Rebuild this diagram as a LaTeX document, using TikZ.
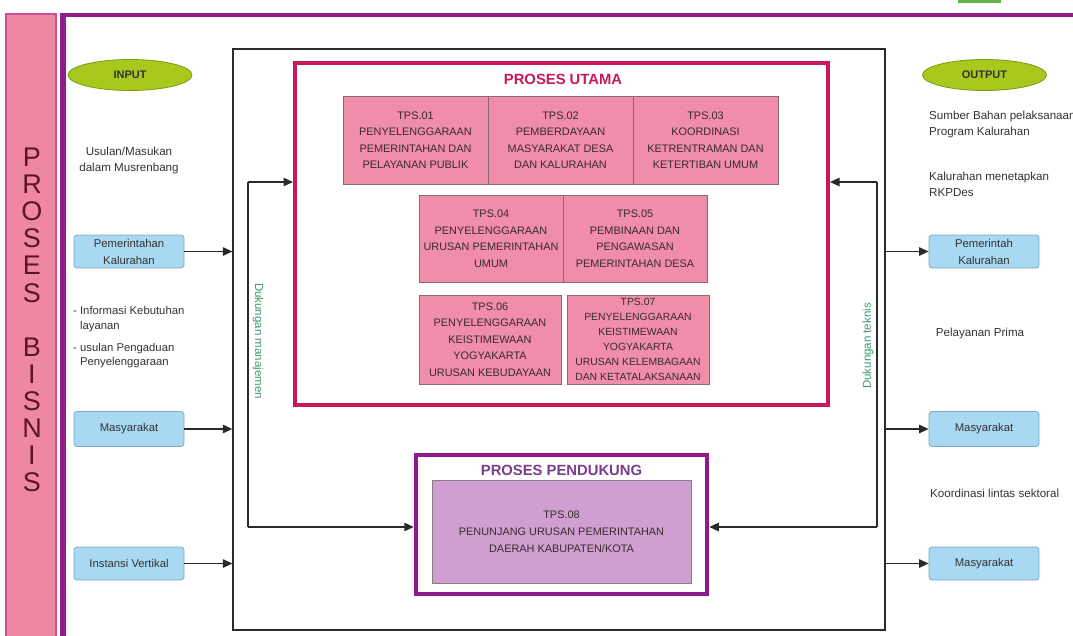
\documentclass[tikz,border=0pt]{standalone}
\usepackage{fontspec}
\setmainfont{Liberation Sans}
\usetikzlibrary{arrows.meta,shapes.geometric}
\definecolor{barpink}{HTML}{EE88A2}
\definecolor{barborder}{HTML}{C8509A}
\definecolor{magline}{HTML}{911C8C}
\definecolor{lettercol}{HTML}{5E1424}
\definecolor{crimson}{HTML}{C8175A}
\definecolor{tpsfill}{HTML}{F08DA8}
\definecolor{tpsdraw}{HTML}{8A6A72}
\definecolor{tpstext}{HTML}{3A2A30}
\definecolor{purp}{HTML}{8E1A8C}
\definecolor{purptitle}{HTML}{7A3C8C}
\definecolor{pendfill}{HTML}{CFA0CF}
\definecolor{pendraw}{HTML}{8A7A8A}
\definecolor{blfill}{HTML}{A8D8F2}
\definecolor{bldraw}{HTML}{7FA8C8}
\definecolor{lime}{HTML}{A8C81E}
\definecolor{limedraw}{HTML}{7A9A10}
\definecolor{dkgreen}{HTML}{3A9A6A}
\definecolor{txt}{HTML}{333333}
\definecolor{framecol}{HTML}{2A2A2A}
\definecolor{topgreen}{HTML}{66AF48}
\begin{document}
\begin{tikzpicture}[x=1pt,y=-1pt,
  tps/.style={draw=tpsdraw, fill=tpsfill, line width=0.8pt, inner sep=0pt, align=center,
    text=tpstext, font=\fontsize{10.9}{16.5}\selectfont},
  blbox/.style={draw=bldraw, fill=blfill, line width=0.8pt, rounded corners=3pt, inner sep=0pt,
    align=center, text=txt, minimum width=110pt, font=\fontsize{11.3}{17}\selectfont},
  oval/.style={ellipse, draw=limedraw, fill=lime, line width=0.8pt, minimum width=124pt,
    minimum height=31pt, inner sep=0pt, text=txt, font=\bfseries\fontsize{11}{12}\selectfont},
  side/.style={text=txt, inner sep=0pt, font=\fontsize{11.6}{16}\selectfont},
  arr/.style={draw=framecol, line width=1.2pt, -{Triangle[length=9.5pt,width=8.5pt]}},
  conn/.style={draw=framecol, line width=1.2pt},
  dukung/.style={text=dkgreen, inner sep=0pt, font=\fontsize{11.5}{13}\selectfont}
]
\useasboundingbox (0,0) rectangle (1073,635);
% left bar and magenta frame
\draw[barborder, line width=2.5pt, fill=barpink] (6,14) rectangle (56,645);
\draw[magline, line width=4pt] (60,15) -- (1080,15);
\draw[magline, line width=6pt] (63,13) -- (63,645);
\fill[topgreen] (958,-1) rectangle (1001,3);
\node[text=lettercol, align=center, inner sep=0pt, font=\fontsize{27}{27.1}\selectfont] (pb) at (32,320)
  {P\\R\\O\\S\\E\\S\\[27.1pt]B\\I\\S\\N\\I\\S};
% black frame
\node[draw=framecol, line width=1.3pt, minimum width=652pt, minimum height=581pt, inner sep=0pt] (frame) at (559,339.5) {};
% PROSES UTAMA
\node[draw=crimson, line width=4pt, minimum width=533pt, minimum height=342pt, inner sep=0pt] (utama) at (561.5,234) {};
\node[text=crimson, inner sep=0pt, font=\bfseries\fontsize{14.8}{16}\selectfont] (utitle) at (563,79) {PROSES UTAMA};
\node[tps, minimum width=145pt, minimum height=88pt] (t1) at (415.5,140) {TPS.01\\PENYELENGGARAAN\\PEMERINTAHAN DAN\\PELAYANAN PUBLIK};
\node[tps, minimum width=145pt, minimum height=88pt] (t2) at (560.5,140) {TPS.02\\PEMBERDAYAAN\\MASYARAKAT DESA\\DAN KALURAHAN};
\node[tps, minimum width=145pt, minimum height=88pt] (t3) at (705.5,140) {TPS.03\\KOORDINASI\\KETRENTRAMAN DAN\\KETERTIBAN UMUM};
\node[tps, minimum width=144pt, minimum height=87pt] (t4) at (491,238.5) {TPS.04\\PENYELENGGARAAN\\URUSAN PEMERINTAHAN\\UMUM};
\node[tps, minimum width=144pt, minimum height=87pt] (t5) at (635,238.5) {TPS.05\\PEMBINAAN DAN\\PENGAWASAN\\PEMERINTAHAN DESA};
\node[tps, minimum width=142pt, minimum height=89pt] (t6) at (490,339.5) {TPS.06\\PENYELENGGARAAN\\KEISTIMEWAAN\\YOGYAKARTA\\URUSAN KEBUDAYAAN};
\node[tps, minimum width=142pt, minimum height=89pt, font=\fontsize{10.4}{15}\selectfont] (t7) at (638,339.5) {TPS.07\\PENYELENGGARAAN\\KEISTIMEWAAN\\YOGYAKARTA\\URUSAN KELEMBAGAAN\\DAN KETATALAKSANAAN};
% PROSES PENDUKUNG
\node[draw=purp, line width=4.5pt, minimum width=291pt, minimum height=139pt, inner sep=0pt] (pend) at (561.5,524.5) {};
\node[text=purptitle, inner sep=0pt, font=\bfseries\fontsize{14.8}{16}\selectfont] (ptitle) at (561.5,470) {PROSES PENDUKUNG};
\node[draw=pendraw, fill=pendfill, line width=0.8pt, minimum width=259pt, minimum height=103pt, inner sep=0pt,
  align=center, text=tpstext, font=\fontsize{10.9}{17}\selectfont] (t8) at (561.5,531.5)
  {TPS.08\\PENUNJANG URUSAN PEMERINTAHAN\\DAERAH KABUPATEN/KOTA};
% input side
\node[oval] (in) at (130,75) {INPUT};
\node[side, align=center] (usul) at (129,160) {Usulan/Masukan\\dalam Musrenbang};
\node[blbox, minimum height=33pt] (ipk) at (129,251.5) {Pemerintahan\\Kalurahan};
\node[side, align=left, anchor=west, font=\fontsize{11.3}{15}\selectfont] (info) at (73,319.5) {- Informasi Kebutuhan\\\phantom{- }layanan};
\node[side, align=left, anchor=west, font=\fontsize{11.3}{14}\selectfont] (peng) at (73,356) {- usulan Pengaduan\\\phantom{- }Penyelenggaraan};
\node[blbox, minimum height=35pt] (imas) at (129,429) {Masyarakat};
\node[blbox, minimum height=33pt] (iins) at (129,563.5) {Instansi Vertikal};
% output side
\node[oval] (out) at (984.5,75) {OUTPUT};
\node[side, align=left, anchor=west] (sumber) at (929,124) {Sumber Bahan pelaksanaan\\Program Kalurahan};
\node[side, align=left, anchor=west] (rkp) at (929,184.5) {Kalurahan menetapkan\\RKPDes};
\node[blbox, minimum height=33pt] (opk) at (984,251.5) {Pemerintah\\Kalurahan};
\node[side] (prima) at (980,333) {Pelayanan Prima};
\node[blbox, minimum height=35pt] (omas) at (984,429) {Masyarakat};
\node[side, anchor=west] (koord) at (930,493) {Koordinasi lintas sektoral};
\node[blbox, minimum height=33pt] (omas2) at (984,563.5) {Masyarakat};
% input arrows
\draw[arr] (ipk.east) -- (ipk.east -| frame.west);
\draw[arr] (imas.east) -- (imas.east -| frame.west);
\draw[arr] (iins.east) -- (iins.east -| frame.west);
% output arrows
\draw[arr] (opk.west -| frame.east) -- (opk.west);
\draw[arr] (omas.west -| frame.east) -- (omas.west);
\draw[arr] (omas2.west -| frame.east) -- (omas2.west);
% support lines
\coordinate (lt) at (248,182);
\coordinate (lb) at (248,527);
\coordinate (rt) at (877,182);
\coordinate (rb) at (877,527);
\draw[conn] (lt) -- (lb);
\draw[conn] (rt) -- (rb);
\draw[arr] (lt) -- (lt -| utama.west);
\draw[arr] (lb) -- (lb -| pend.west);
\draw[arr] (rt) -- (rt -| utama.east);
\draw[arr] (rb) -- (rb -| pend.east);
\node[dukung, rotate=-90] (dm) at (258,341) {Dukungan manajemen};
\node[dukung, rotate=90] (dt) at (868,346) {Dukungan teknis};
\end{tikzpicture}
\end{document}
